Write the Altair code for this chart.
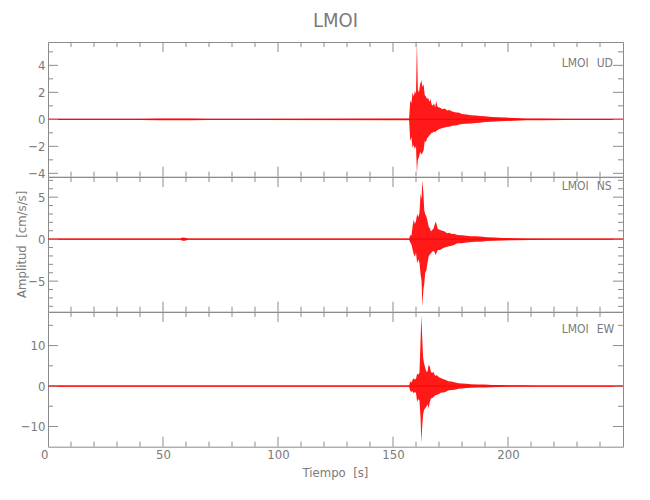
import altair as alt
import pandas as pd

# ---------------- data ----------------
station = "LMOI"
components = ["UD", "NS", "EW"]

# (time [s], upper envelope, lower envelope) in cm/s/s
ud_rows = [
    (0, 0.05, -0.05), (40, 0.05, -0.05), (48, 0.06, -0.06), (62, 0.06, -0.06),
    (70, 0.05, -0.05), (157.0, 0.06, -0.06), (157.5, 1.4, -1.6),
    (158.0, 1.2, -1.3), (158.5, 2.0, -2.1), (159.0, 1.7, -1.9), (159.5, 2.1, -2.2),
    (160.0, 1.9, -2.0), (160.4, 5.9, -3.95), (160.8, 2.2, -3.0), (161.3, 2.0, -2.8),
    (161.8, 2.6, -2.4), (162.3, 2.9, -2.6), (162.8, 2.4, -2.5), (163.3, 2.6, -2.3),
    (163.8, 1.8, -1.6), (164.3, 1.7, -1.7), (164.8, 1.5, -1.4), (165.3, 1.6, -1.3),
    (165.8, 1.3, -1.2), (166.3, 1.5, -1.1), (166.8, 1.1, -1.0), (167.3, 1.0, -1.0),
    (167.8, 1.2, -0.9), (168.3, 0.9, -0.95), (168.8, 1.35, -0.86), (169.3, 0.95, -0.8),
    (169.8, 0.9, -0.75), (170.5, 0.85, -0.7), (171.5, 0.75, -0.65), (172.5, 0.8, -0.6),
    (173.5, 0.65, -0.55), (174.5, 0.7, -0.55), (175.5, 0.6, -0.5), (176.5, 0.55, -0.45),
    (177.5, 0.5, -0.45), (178.5, 0.5, -0.4), (180, 0.4, -0.35), (182, 0.35, -0.32),
    (184, 0.3, -0.3), (186, 0.28, -0.27), (188, 0.25, -0.25), (190, 0.22, -0.2),
    (193, 0.18, -0.17), (196, 0.15, -0.14), (199, 0.13, -0.12), (203, 0.1, -0.1),
    (208, 0.07, -0.07), (215, 0.06, -0.06), (225, 0.05, -0.05), (250, 0.05, -0.05),
]

ns_rows = [
    (0, 0.08, -0.08), (57.5, 0.08, -0.08), (58.5, 0.2, -0.2), (59.5, 0.18, -0.18),
    (61, 0.08, -0.08), (157.0, 0.08, -0.08), (157.5, 0.5, -0.4), (158.0, 0.4, -0.6),
    (158.5, 1.5, -1.2), (159.0, 2.3, -1.8), (159.5, 1.8, -2.1), (160.0, 2.2, -1.6),
    (160.5, 3.0, -2.9), (161.0, 2.6, -2.4), (161.5, 3.1, -2.8), (162.0, 5.4, -4.2),
    (162.4, 4.8, -4.9), (162.8, 7.0, -8.05), (163.2, 5.5, -6.0), (163.6, 3.4, -5.3),
    (164.0, 3.0, -4.0), (164.5, 2.7, -3.7), (165.0, 2.2, -2.8), (165.5, 1.5, -2.1),
    (166.0, 1.3, -1.8), (166.5, 0.9, -1.7), (167.0, 1.1, -1.5), (167.5, 1.2, -1.4),
    (168.0, 1.6, -1.5), (168.5, 2.1, -1.9), (169.0, 1.7, -1.6), (169.5, 1.2, -1.3),
    (170.5, 1.1, -1.3), (171.5, 1.0, -1.1), (172.5, 0.9, -1.0), (173.5, 0.7, -0.9),
    (174.5, 0.75, -0.85), (175.5, 0.6, -0.8), (176.5, 0.65, -0.7), (178, 0.5, -0.5),
    (180, 0.45, -0.5), (182, 0.4, -0.4), (184, 0.35, -0.35), (186, 0.35, -0.3),
    (188, 0.3, -0.3), (191, 0.22, -0.22), (194, 0.2, -0.2), (198, 0.15, -0.15),
    (203, 0.12, -0.12), (210, 0.09, -0.09), (220, 0.08, -0.08), (250, 0.08, -0.08),
]

ew_rows = [
    (0, 0.15, -0.15), (157.0, 0.15, -0.15), (157.5, 1.1, -1.2), (158.0, 0.9, -1.4),
    (158.5, 1.5, -1.3), (159.0, 1.9, -1.8), (159.5, 1.6, -1.5), (160.0, 1.8, -1.7),
    (160.5, 3.1, -3.9), (161.0, 2.8, -3.2), (161.5, 3.3, -3.6), (162.0, 11.4, -8.0),
    (162.3, 17.5, -14.0), (162.7, 12.2, -10.0), (163.1, 7.0, -7.0), (163.5, 5.6, -5.9),
    (164.0, 4.5, -5.5), (164.5, 3.5, -5.1), (165.0, 3.6, -4.5), (165.5, 5.2, -5.5),
    (166.0, 4.8, -4.0), (166.5, 3.5, -3.0), (167.0, 3.2, -3.0), (167.5, 3.5, -2.8),
    (168.0, 2.9, -2.5), (168.5, 2.5, -2.2), (169.0, 2.7, -2.2), (170.0, 2.2, -2.0),
    (171.0, 1.9, -1.6), (172.0, 1.7, -1.6), (173.0, 1.5, -1.4), (174.0, 1.2, -1.1),
    (175.5, 1.1, -1.0), (177, 0.9, -0.9), (178.5, 0.7, -0.7), (180, 0.6, -0.6),
    (182, 0.55, -0.5), (184, 0.45, -0.45), (187, 0.4, -0.35), (190, 0.35, -0.35),
    (193, 0.28, -0.28), (196, 0.25, -0.25), (200, 0.2, -0.2), (205, 0.17, -0.17),
    (212, 0.15, -0.15), (250, 0.15, -0.15),
]

# axis ranges and ticks
x_range = [0, 250]
x_major = [0, 50, 100, 150, 200]
x_minor = [10, 20, 30, 40, 60, 70, 80, 90, 110, 120, 130, 140,
           160, 170, 180, 190, 210, 220, 230, 240]

y_ranges = [[-4.25, 5.73], [-8.64, 7.4], [-15.0, 18.3]]
y_major = [[-4, -2, 0, 2, 4], [-5, 0, 5], [-10, 0, 10]]
y_minor = [[-3, -1, 1, 3, 5],
           [-8, -7, -6, -4, -3, -2, -1, 1, 2, 3, 4, 6, 7],
           [-5, 5, 15]]

title_text = "LMOI"
x_title = "Tiempo\u00a0\u00a0[s]"
y_title = "Amplitud\u00a0\u00a0[cm/s/s]"

# ---------------- style ----------------
W = 575
H = 134.7
FRAME = "#8c8c8c"
TXT = "#7a7a7a"
RED = "#ff0000"
FONT = "Liberation Sans Narrow, DejaVu Sans Condensed, Liberation Sans, sans-serif"
label_y = [20.7, 9.3, 16.7]


def panel(i, rows):
    df = pd.DataFrame(rows, columns=["t", "hi", "lo"])
    xs = alt.Scale(domain=x_range, nice=False, zero=False)
    ys = alt.Scale(domain=y_ranges[i], nice=False, zero=False)
    last = i == 2
    if last:
        xax = alt.Axis(values=x_major, ticks=False, domain=False, grid=False,
                       labelFont=FONT, labelFontSize=13, labelColor=TXT, labelPadding=2,
                       labelFlush=False, title=None,
                       labelAlign=alt.condition("datum.value == 0", alt.value("right"), alt.value("center")))
    else:
        xax = None
    yax = alt.Axis(values=y_major[i], ticks=False, domain=False, grid=False,
                   labelFont=FONT, labelFontSize=13, labelColor=TXT, labelPadding=3,
                   labelFlush=False, title=None)

    def X(f):
        return alt.X(f, scale=xs, axis=xax)

    def Y(f):
        return alt.Y(f, scale=ys, axis=yax)

    area = alt.Chart(df).mark_area(color=RED, opacity=0.9, interpolate="linear").encode(
        x=X("t:Q"), y=Y("hi:Q"), y2="lo:Q",
    )
    base = alt.Chart(pd.DataFrame({"z": [0]})).mark_rule(color=RED, strokeWidth=1).encode(
        y=Y("z:Q")
    )
    xmaj = pd.DataFrame({"v": x_major[1:]})
    xmin = pd.DataFrame({"v": x_minor})
    ymaj = pd.DataFrame({"v": y_major[i]})
    ymin = pd.DataFrame({"v": y_minor[i]})

    def xt(d, top, ln):
        if top:
            yy, yy2 = 0, ln
        else:
            yy, yy2 = H, H - ln
        return alt.Chart(d).mark_rule(color=FRAME, strokeWidth=1).encode(
            x=X("v:Q"), y=alt.value(yy), y2=alt.value(yy2))

    def yt(d, left, ln):
        if left:
            xx, xx2 = 0, ln
        else:
            xx, xx2 = W, W - ln
        return alt.Chart(d).mark_rule(color=FRAME, strokeWidth=1).encode(
            y=Y("v:Q"), x=alt.value(xx), x2=alt.value(xx2))

    layers = [area, base,
              xt(xmaj, True, 10), xt(xmaj, False, 10), xt(xmin, True, 5), xt(xmin, False, 5),
              yt(ymaj, True, 10), yt(ymaj, False, 10), yt(ymin, True, 5), yt(ymin, False, 5)]

    lab1 = alt.Chart(pd.DataFrame({"s": [station]})).mark_text(
        font=FONT, fontSize=12, color=TXT, align="left", baseline="middle").encode(
        text="s:N", x=alt.value(513.7), y=alt.value(label_y[i]))
    lab2 = alt.Chart(pd.DataFrame({"s": [components[i]]})).mark_text(
        font=FONT, fontSize=12, color=TXT, align="left", baseline="middle").encode(
        text="s:N", x=alt.value(548.7), y=alt.value(label_y[i]))
    layers += [lab1, lab2]

    if i == 0:
        layers.append(alt.Chart(pd.DataFrame({"s": [title_text]})).mark_text(
            font=FONT, fontSize=20, color=TXT, align="center", baseline="middle").encode(
            text="s:N", x=alt.value(W / 2), y=alt.value(-21)))
    if i == 1:
        layers.append(alt.Chart(pd.DataFrame({"s": [y_title]})).mark_text(
            font=FONT, fontSize=13, color=TXT, align="center", baseline="middle", angle=270).encode(
            text="s:N", x=alt.value(-26), y=alt.value(H / 2)))
    if last:
        layers.append(alt.Chart(pd.DataFrame({"s": [x_title]})).mark_text(
            font=FONT, fontSize=13, color=TXT, align="center", baseline="middle").encode(
            text="s:N", x=alt.value(W / 2), y=alt.value(H + 26.5)))

    return alt.layer(*layers).properties(width=W, height=H)


chart = alt.vconcat(
    panel(0, ud_rows), panel(1, ns_rows), panel(2, ew_rows),
    spacing=0, bounds="flush",
).properties(
    padding={"left": 7, "top": 2, "right": 5, "bottom": 5},
    background="white",
).configure_view(stroke=FRAME, strokeWidth=1)

chart.save("out.html", embed_options={"renderer": "svg", "actions": False})
